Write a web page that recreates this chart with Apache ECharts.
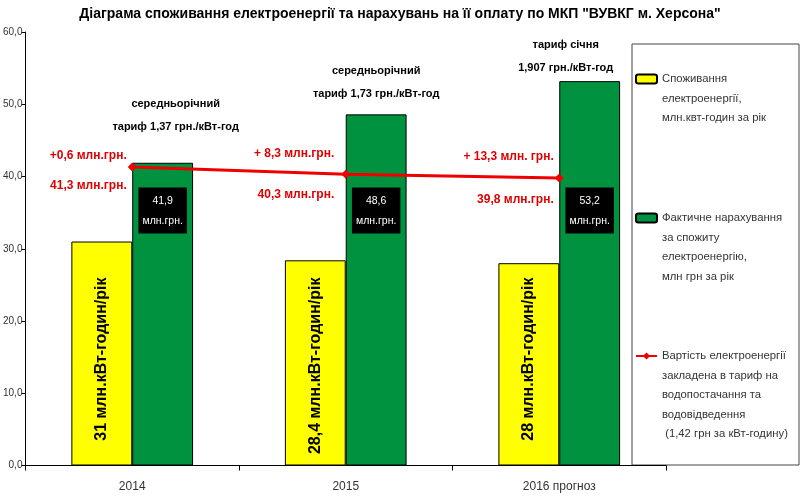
<!DOCTYPE html>
<html>
<head>
<meta charset="utf-8">
<script src="https://cdn.jsdelivr.net/npm/echarts@6/dist/echarts.min.js"></script>
<style>
  html, body { margin: 0; padding: 0; background: #fff; }
  #chart { width: 800px; height: 501px; }
</style>
</head>
<body>
<div id="chart"></div>
<script>
// values
const categories = ['2014', '2015', '2016 прогноз'];
const consumption = [31, 28.4, 28];          // млн кВт-год
const charged = [41.9, 48.6, 53.2];          // млн грн
const inTariff = [41.3, 40.3, 39.8];         // млн грн
const diffLabels = ['+0,6 млн.грн.', '+ 8,3 млн.грн.', '+ 13,3 млн. грн.'];
const tariffNotes = [
  'середньорічний\nтариф 1,37 грн./кВт-год',
  'середньорічний\nтариф 1,73 грн./кВт-год',
  'тариф січня\n1,907 грн./кВт-год'
];
const yTicks = [0, 10, 20, 30, 40, 50, 60];

const names = [
  'Споживання\nелектроенергії,\nмлн.квт-годин за рік',
  'Фактичне нарахування\nза спожиту\nелектроенергію,\nмлн грн за рік',
  'Вартість електроенергії\nзакладена в тариф на\nводопостачання та\nводовідведення\n (1,42 грн за кВт-годину)'
];

// label placement tweaks (style only)
const noteOffsets = [[13, -19], [0, -3], [-24, 4]];
const lineLabelOffsets = [[0, 4], [-6, 0], [0, 0]];
const lineLabelGaps = [30, 41, 43];
const legendFirstLine = [79, 218, 356];

const SANS = '"Liberation Sans", Arial, sans-serif';
const LH = 19.5;

const fmt = v => v.toFixed(1).replace('.', ',');

const chart = echarts.init(document.getElementById('chart'));

// one legend per entry so the icon sits at the first text line
const legends = names.map((name, i) => {
  const n = name.split('\n').length;
  return {
    data: [name],
    orient: 'vertical',
    left: 635,
    top: legendFirstLine[i] - (2 * n - 1) * LH / 2,
    padding: 0,
    itemWidth: 21,
    itemHeight: 9,
    selectedMode: false,
    formatter: nm => '\n'.repeat(n - 1) + nm,
    textStyle: { fontFamily: SANS, fontSize: 11.3, color: '#333', lineHeight: LH }
  };
});

const redText = gap => ({
  a: { color: '#e00000', fontFamily: SANS, fontSize: 12, fontWeight: 'bold', lineHeight: gap, align: 'right' }
});

chart.setOption({
  animation: false,
  title: {
    text: 'Діаграма споживання електроенергії та нарахувань на її оплату по МКП "ВУВКГ м. Херсона"',
    left: 'center',
    top: 2,
    textStyle: { fontFamily: SANS, fontSize: 14, fontWeight: 'bold', color: '#000' }
  },
  graphic: [{
    type: 'rect',
    z: 0,
    shape: { x: 632, y: 44, width: 167, height: 421 },
    style: { fill: '#fff', stroke: '#444', lineWidth: 1 }
  }],
  legend: legends,
  grid: { left: 25, right: 134, top: 32, bottom: 35.5 },
  xAxis: {
    type: 'category',
    data: categories,
    axisLine: { lineStyle: { color: '#000', width: 1 } },
    axisTick: { show: true, length: 5, lineStyle: { color: '#000' } },
    axisLabel: { fontFamily: SANS, fontSize: 12, color: '#333', margin: 15 }
  },
  yAxis: {
    type: 'value',
    min: yTicks[0],
    max: yTicks[yTicks.length - 1],
    interval: 10,
    splitLine: { show: false },
    axisLine: { show: true, lineStyle: { color: '#000', width: 1 } },
    axisTick: { show: true, length: 4, lineStyle: { color: '#000' } },
    axisLabel: { fontFamily: SANS, fontSize: 10, color: '#333', margin: 3, formatter: v => fmt(v) }
  },
  series: [
    {
      name: names[0],
      type: 'bar',
      barGap: '0%',
      barCategoryGap: '43%',
      data: consumption,
      itemStyle: { color: '#ffff00', borderColor: '#000', borderWidth: 1 },
      label: {
        show: true,
        position: 'insideBottom',
        distance: 188,
        rotate: 90,
        align: 'right',
        verticalAlign: 'middle',
        fontFamily: SANS,
        fontSize: 16,
        fontWeight: 'bold',
        color: '#000',
        formatter: p => String(p.value).replace('.', ',') + ' млн.кВт-годин/рік'
      }
    },
    {
      name: names[1],
      type: 'bar',
      data: charged,
      itemStyle: { color: '#00923f', borderColor: '#000', borderWidth: 1 },
      label: {
        show: true,
        position: 'insideBottom',
        distance: 232,
        backgroundColor: '#000',
        color: '#fff',
        padding: [4, 4, 2, 4],
        lineHeight: 20,
        fontFamily: SANS,
        fontSize: 10.5,
        formatter: p => fmt(p.value) + '\nмлн.грн.'
      },
      markPoint: {
        symbol: 'rect',
        symbolSize: 1,
        itemStyle: { color: 'transparent' },
        label: {
          show: true,
          position: 'top',
          distance: 5,
          color: '#000',
          fontFamily: SANS,
          fontSize: 11,
          fontWeight: 'bold',
          lineHeight: 23
        },
        data: categories.map((c, i) => ({
          coord: [c, charged[i]],
          label: { offset: noteOffsets[i], formatter: tariffNotes[i] }
        }))
      }
    },
    {
      name: names[2],
      type: 'line',
      z: 5,
      data: inTariff.map((v, i) => ({
        value: v,
        label: { offset: lineLabelOffsets[i], rich: redText(lineLabelGaps[i]) }
      })),
      symbol: 'diamond',
      symbolSize: 9,
      lineStyle: { color: '#ee0000', width: 3 },
      itemStyle: { color: '#ee0000' },
      label: {
        show: true,
        position: 'left',
        distance: 1,
        align: 'right',
        formatter: p => '{a|' + diffLabels[p.dataIndex] + '}\n{a|' + fmt(p.value) + ' млн.грн.}',
        rich: redText(36)
      }
    }
  ]
});

window.addEventListener('resize', () => chart.resize());
</script>
</body>
</html>
